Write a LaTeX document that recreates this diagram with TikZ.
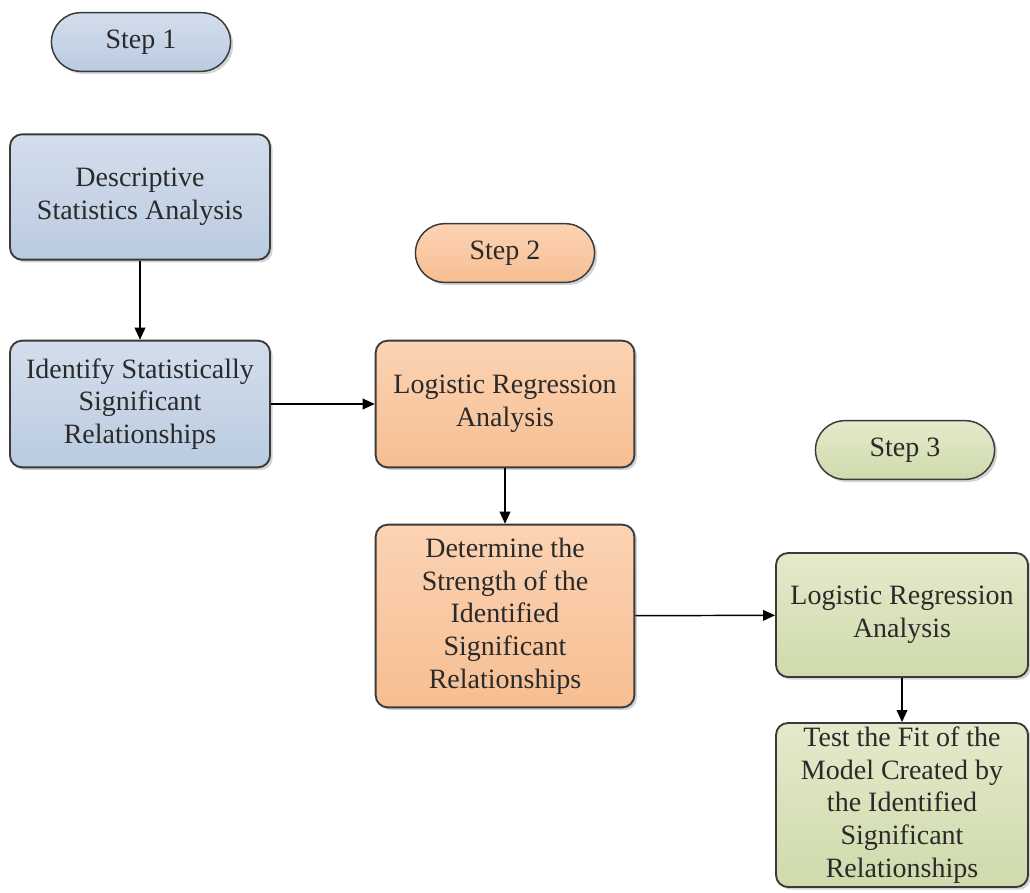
\documentclass[tikz,border=0pt]{standalone}
\usepackage{fontspec}
\setmainfont{Liberation Serif}
\usetikzlibrary{arrows.meta,shadows,shapes.misc}
\definecolor{btop}{HTML}{D3DEEC}
\definecolor{bbot}{HTML}{BACBE0}
\definecolor{otop}{HTML}{FCD3B3}
\definecolor{obot}{HTML}{F6BE92}
\definecolor{gtop}{HTML}{E4EACB}
\definecolor{gbot}{HTML}{CFDAAC}
\definecolor{edge}{HTML}{3A3A3A}
\definecolor{txt}{HTML}{2A2A2A}
\tikzset{
  box/.style={draw=edge, line width=1.4pt, rounded corners=9pt, align=center,
    font=\fontsize{21}{24.5}\selectfont, text=txt, inner sep=2pt,
    drop shadow={shadow xshift=2pt, shadow yshift=-2pt, opacity=0.35}},
  pill/.style={draw=edge, line width=1.1pt, rounded rectangle, align=center,
    font=\fontsize{21}{24}\selectfont, text=txt,
    minimum width=141pt, minimum height=44pt,
    drop shadow={shadow xshift=2pt, shadow yshift=-2pt, opacity=0.35}},
  blue/.style={top color=btop, bottom color=bbot},
  orng/.style={top color=otop, bottom color=obot},
  grn/.style={top color=gtop, bottom color=gbot},
  arr/.style={-{Triangle[length=9pt,width=8pt]}, line width=1.1pt, draw=black}
}
\begin{document}
\begin{tikzpicture}[x=0.75pt,y=-0.75pt]
\useasboundingbox (0,0) rectangle (1030,892);
\node[pill,blue] (s1) at (141,42) {Step 1};
\node[pill,orng] (s2) at (505,253) {Step 2};
\node[pill,grn] (s3) at (905,450) {Step 3};

\node[box,blue,minimum width=195pt,minimum height=94pt] (a) at (140,197) {Descriptive\\Statistics Analysis};
\node[box,blue,minimum width=195pt,minimum height=95pt] (b) at (140,404) {Identify Statistically\\Significant\\Relationships};
\node[box,orng,minimum width=194pt,minimum height=95pt] (c) at (505,404) {Logistic Regression\\Analysis};
\node[box,orng,minimum width=194pt,minimum height=137pt] (d) at (505,616) {Determine the\\Strength of the\\Identified\\Significant\\Relationships};
\node[box,grn,minimum width=189pt,minimum height=93pt] (e) at (902,615) {Logistic Regression\\Analysis};
\node[box,grn,minimum width=189pt,minimum height=123pt] (f) at (902,805) {Test the Fit of the\\Model Created by\\the Identified\\Significant\\Relationships};

\draw[arr] (a) -- (b);
\draw[arr] (b) -- (c);
\draw[arr] (c) -- (d);
\draw[arr] (d) -- (e);
\draw[arr] (e) -- (f);
\end{tikzpicture}
\end{document}
